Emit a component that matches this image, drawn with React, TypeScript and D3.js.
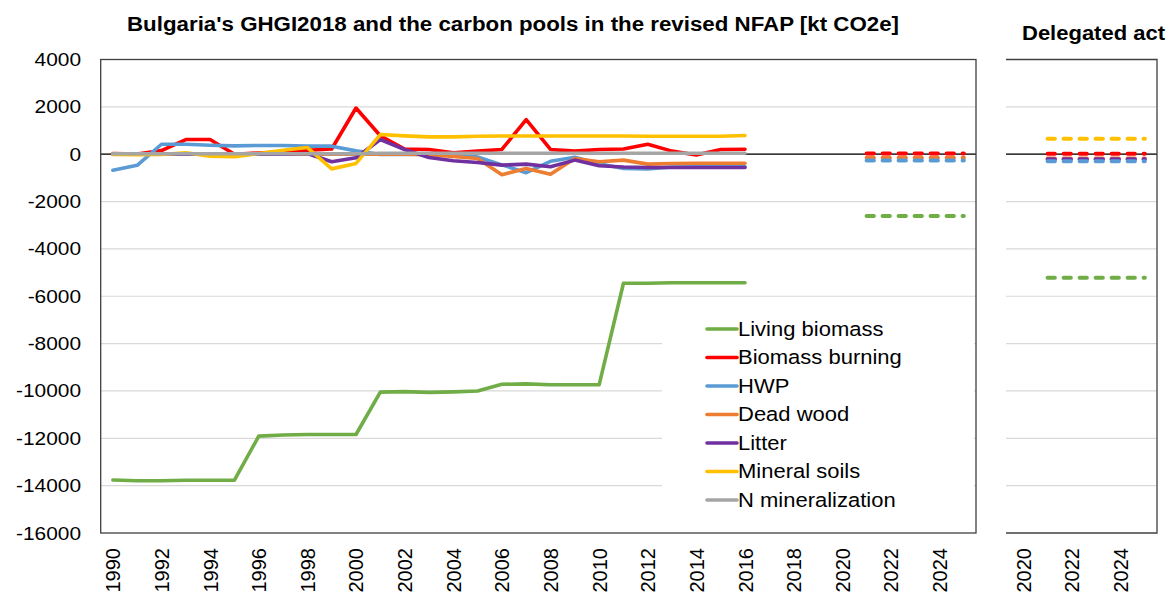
import React from "react";
import * as d3 from "d3";

const years = d3.range(1990, 2017);
const livingBiomass = [-13760, -13790, -13790, -13770, -13770, -13770, -11910, -11860, -11840, -11840, -11840, -10050, -10030, -10060, -10040, -10000, -9720, -9700, -9740, -9740, -9740, -5450, -5450, -5430, -5430, -5430, -5430];
const biomassBurning = [30, 10, 150, 620, 620, 0, 50, 100, 170, 220, 1950, 780, 220, 200, 60, 130, 200, 1460, 200, 130, 200, 220, 420, 130, -30, 200, 210];
const hwp = [-680, -470, 420, 420, 380, 350, 370, 370, 340, 340, 140, -10, -10, 0, 0, -120, -450, -780, -300, -130, -400, -600, -620, -540, -530, -530, -530];
const deadWood = [0, 0, 0, 0, 0, 0, 0, 0, 0, 0, 0, 0, 0, -20, -100, -180, -870, -600, -850, -180, -320, -250, -420, -390, -380, -380, -380];
const litter = [0, 0, 0, 0, 0, 0, 0, 0, 30, -320, -150, 620, 200, -140, -280, -350, -460, -420, -530, -250, -490, -540, -560, -560, -560, -560, -560];
const mineralSoils = [-15, -20, -15, 60, -80, -110, 30, 170, 280, -620, -390, 830, 775, 730, 730, 760, 770, 770, 770, 770, 770, 770, 760, 760, 760, 760, 790];
const nMineralization = [20, 20, 20, 20, 20, 20, 20, 20, 20, 20, 20, 40, 40, 40, 40, 40, 40, 40, 40, 40, 40, 40, 40, 40, 40, 40, 40];

const projYears = [2021, 2022, 2023, 2024, 2025];
// NFAP projections (main panel)
const nfapDeadWood = [-150, -150, -150, -150, -150];
const nfapBiomassBurning = [30, 30, 30, 30, 30];
const nfapHwp = [-270, -270, -270, -270, -270];
const nfapLivingBiomass = [-2610, -2610, -2610, -2610, -2610];
// Delegated act (right panel)
const daDeadWood = [-180, -180, -180, -180, -180];
const daBiomassBurning = [15, 15, 15, 15, 15];
const daLitter = [-210, -210, -210, -210, -210];
const daHwp = [-300, -300, -300, -300, -300];
const daMineralSoils = [650, 650, 650, 650, 650];
const daLivingBiomass = [-5220, -5220, -5220, -5220, -5220];

const yTicks = [4000, 2000, 0, -2000, -4000, -6000, -8000, -10000, -12000, -14000, -16000];
const mainCats = d3.range(1990, 2026);
const mainTickYears = d3.range(1990, 2026, 2);
const rightCats = d3.range(2019, 2026);
const rightTickYears = [2020, 2022, 2024];

const seriesNames = ["Living biomass", "Biomass burning", "HWP", "Dead wood", "Litter", "Mineral soils", "N mineralization"];
const seriesValues = [livingBiomass, biomassBurning, hwp, deadWood, litter, mineralSoils, nMineralization];
const colors = ["#70AD47", "#FF0000", "#5B9BD5", "#ED7D31", "#7030A0", "#FFC000", "#A5A5A5"];

const title = "Bulgaria's GHGI2018 and the carbon pools in the revised NFAP [kt CO2e]";
const title2 = "Delegated act";

export default function App() {
  const W = 1169, H = 595;
  const mx0 = 100.7, mx1 = 976, rx0 = 1006, rx1 = 1157;
  const yTop = 59.5, yBot = 533;
  const y = d3.scaleLinear().domain([-16000, 4000]).range([yBot, yTop]);
  const xm = d3.scalePoint<number>().domain(mainCats).range([mx0, mx1]).padding(0.5);
  const xr = d3.scalePoint<number>().domain(rightCats).range([rx1 - rightCats.length * xm.step(), rx1]).padding(0.5);

  const lineM = (vals: number[], yrs: number[]) =>
    d3.line<number>().x((_, i) => xm(yrs[i]) as number).y((v) => y(v))(vals) as string;
  const lineR = (vals: number[], yrs: number[]) =>
    d3.line<number>().x((_, i) => xr(yrs[i]) as number).y((v) => y(v))(vals) as string;

  const font = "'Liberation Sans', Arial, sans-serif";
  const gridTicks = yTicks.filter((t) => t !== 4000 && t !== -16000);
  const dash = "7.3 8.7";
  const stretch = 1.14;
  const mainProj = [
    { v: nfapDeadWood, c: colors[3] },
    { v: nfapBiomassBurning, c: colors[1] },
    { v: nfapHwp, c: colors[2] },
    { v: nfapLivingBiomass, c: colors[0] },
  ];
  const rightProj = [
    { v: daDeadWood, c: colors[3] },
    { v: daBiomassBurning, c: colors[1] },
    { v: daLitter, c: colors[4] },
    { v: daHwp, c: colors[2] },
    { v: daMineralSoils, c: colors[5] },
    { v: daLivingBiomass, c: colors[0] },
  ];
  const legX = 707, legY0 = 329, legStep = 28.5;

  return (
    <svg width={W} height={H} style={{ position: "absolute", left: 0, top: 0, background: "#fff" }} fontFamily={font}>
      <rect x={0} y={0} width={W} height={H} fill="#fff" />
      {/* grid */}
      {gridTicks.map((t) => (
        <line key={"gm" + t} x1={mx0} x2={mx1} y1={y(t)} y2={y(t)} stroke="#D9D9D9" strokeWidth={1.2} />
      ))}
      {gridTicks.map((t) => (
        <line key={"gr" + t} x1={rx0} x2={rx1} y1={y(t)} y2={y(t)} stroke="#D9D9D9" strokeWidth={1.2} />
      ))}
      {/* zero lines */}
      <line x1={mx0} x2={mx1} y1={y(0)} y2={y(0)} stroke="#000" strokeWidth={1.2} />
      <line x1={rx0} x2={rx1} y1={y(0)} y2={y(0)} stroke="#000" strokeWidth={1.2} />
      {/* main panel series */}
      {seriesValues.map((vals, i) => (
        <path key={"s" + i} d={lineM(vals, years)} fill="none" stroke={colors[i]} strokeWidth={3.6} strokeLinejoin="round" strokeLinecap="round" />
      ))}
      {mainProj.map((p, i) => (
        <path key={"mp" + i} d={lineM(p.v, projYears)} fill="none" stroke={p.c} strokeWidth={4} strokeDasharray={dash} strokeLinecap="round" />
      ))}
      {rightProj.map((p, i) => (
        <path key={"rp" + i} d={lineR(p.v, projYears)} fill="none" stroke={p.c} strokeWidth={4} strokeDasharray={dash} strokeLinecap="round" />
      ))}
      {/* legend */}
      <rect x={662} y={304} width={312} height={220} fill="#fff" />
      {seriesNames.map((n, i) => (
        <g key={"lg" + i}>
          <line x1={legX} x2={legX + 30} y1={legY0 + i * legStep} y2={legY0 + i * legStep} stroke={colors[i]} strokeWidth={3.6} strokeLinecap="round" />
          <text transform={`translate(${legX + 31},${legY0 + i * legStep}) scale(${stretch},1)`} dominantBaseline="central" fontSize={19.3} fill="#000">{n}</text>
        </g>
      ))}
      {/* borders */}
      <rect x={mx0} y={yTop} width={mx1 - mx0} height={yBot - yTop} fill="none" stroke="#404040" strokeWidth={1.3} />
      <path d={`M${rx0},${yTop}H${rx1}V${yBot}H${rx0}`} fill="none" stroke="#404040" strokeWidth={1.3} />
      {/* y ticks */}
      {yTicks.map((t) => (
        <text key={"yt" + t} transform={`translate(81,${y(t)}) scale(${stretch},1)`} textAnchor="end" dominantBaseline="central" fontSize={18.3} fill="#000">{t}</text>
      ))}
      {/* x ticks */}
      {mainTickYears.map((yr) => (
        <text key={"xm" + yr} transform={`translate(${(xm(yr) as number) + 7.5},${548}) rotate(-90)`} textAnchor="end" fontSize={20} fill="#000">{yr}</text>
      ))}
      {rightTickYears.map((yr) => (
        <text key={"xr" + yr} transform={`translate(${(xr(yr) as number) + 7.5},${548}) rotate(-90)`} textAnchor="end" fontSize={20} fill="#000">{yr}</text>
      ))}
      {/* titles */}
      <text x={127} y={31} textLength={772} lengthAdjust="spacingAndGlyphs" fontSize={19.5} fontWeight="bold" fill="#000">{title}</text>
      <text x={1022} y={40} textLength={143} lengthAdjust="spacingAndGlyphs" fontSize={19.5} fontWeight="bold" fill="#000">{title2}</text>
    </svg>
  );
}
